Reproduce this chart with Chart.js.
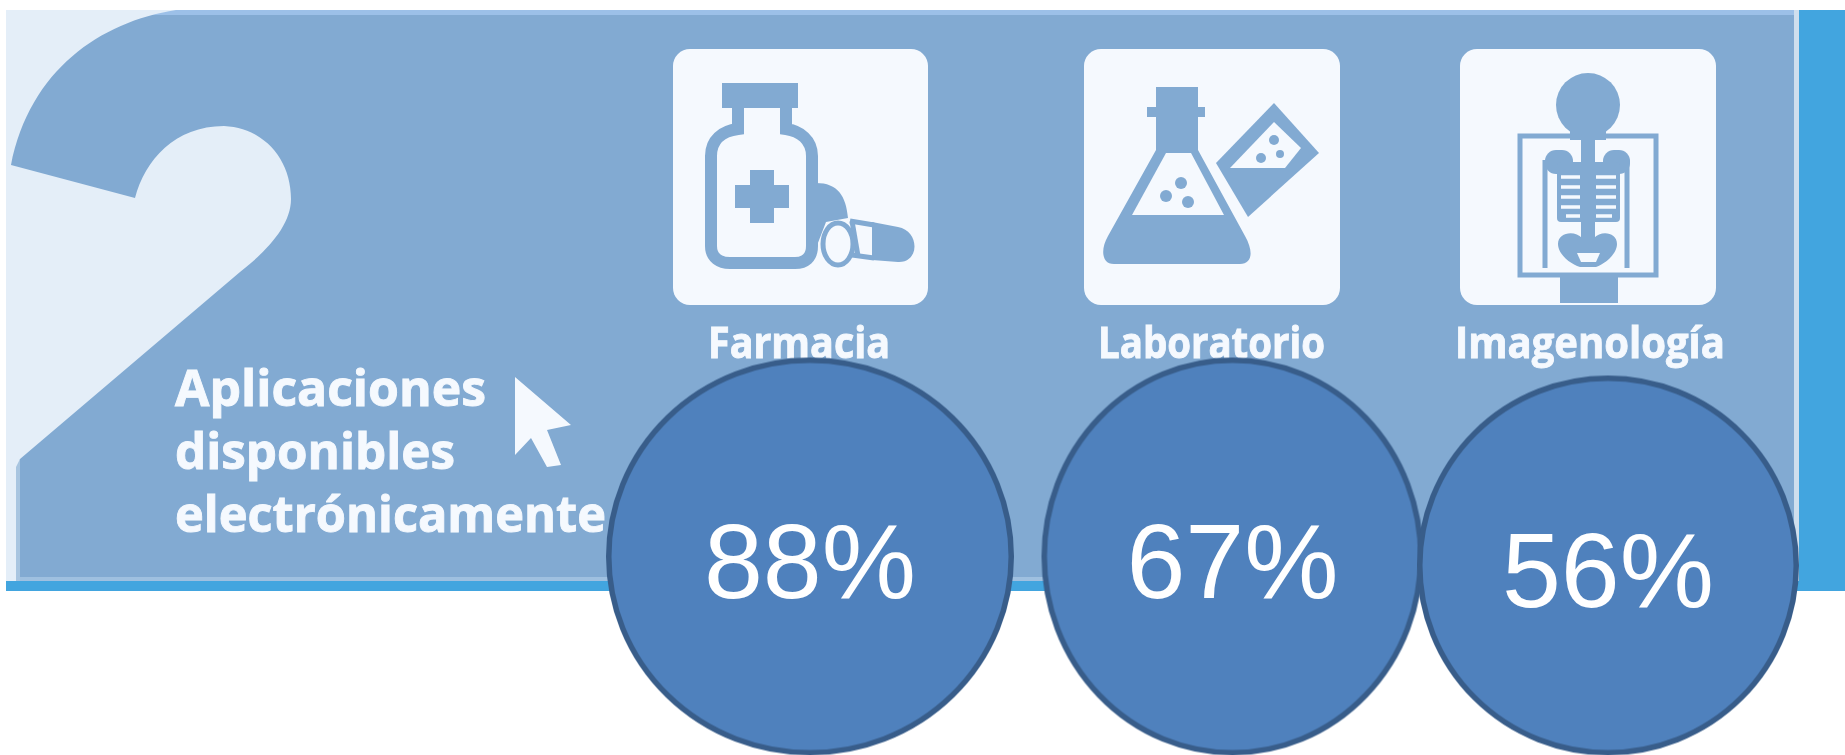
<!DOCTYPE html>
<html lang="es">
<head>
<meta charset="utf-8">
<title>Aplicaciones disponibles electrónicamente</title>
<script src="https://cdn.jsdelivr.net/npm/chart.js@4"></script>
<style>
  html, body { margin: 0; padding: 0; background: #fff; overflow: hidden; }
  #stage { position: relative; width: 1845px; height: 755px; }
  #stage svg, #stage canvas { position: absolute; left: 0; top: 0; }
  #art { filter: blur(0.7px); }
  .head { font: 700 50px "Open Sans", sans-serif; fill: #f5f9fe; stroke: #f5f9fe; stroke-width: 0.9px; }
  .cat { font: 700 43px "Open Sans", sans-serif; fill: #f5f9fe; stroke: #f5f9fe; stroke-width: 0.9px; }
  .ic { fill: #82aad2; }
  .ln { fill: none; stroke: #82aad2; }
  .wh { fill: #f5f9fe; }
  .wl { fill: none; stroke: #f5f9fe; }
</style>
</head>
<body>
<div id="stage">
  <!-- the slide behind the chart -->
  <svg id="art" width="1845" height="755" viewBox="0 0 1845 755">
    <rect x="6" y="10" width="1793" height="581" fill="#82aad2"/>
    <rect x="6" y="10" width="1788" height="5" fill="#9cc0e8"/>
    <rect x="20" y="577" width="1774" height="4" fill="#9fc0e0"/>
    <rect x="16" y="460" width="4" height="121" fill="#a8c5e0"/>
    <rect x="1794" y="10" width="5" height="571" fill="#cfdfee"/>
    <rect x="1799" y="10" width="46" height="581" fill="#42a5df"/>
    <rect x="6" y="581" width="1793" height="10" fill="#42a5df"/>

    <!-- big number 2 -->
    <path fill="#e4eef8" d="M6,10 L176,10 C100,22 30,70 11,165 L135,198 C145,160 175,126 224,126
      C265,128 291,160 291,199 C291,225 268,250 240,272 L20,459 L16,467 L16,581 L6,581 Z"/>

    <text class="head" x="175" y="406" textLength="311" lengthAdjust="spacingAndGlyphs">Aplicaciones</text>
    <text class="head" x="175" y="469" textLength="280" lengthAdjust="spacingAndGlyphs">disponibles</text>
    <text class="head" x="175" y="532" textLength="431" lengthAdjust="spacingAndGlyphs">electrónicamente</text>

    <!-- mouse cursor -->
    <path class="wh" d="M515,377 L571,425 L547,430 L561,465 L547,467 L531,438 L515,455 Z"/>

    <!-- tiles -->
    <rect class="wh" x="673" y="49" width="255" height="256" rx="17"/>
    <rect class="wh" x="1084" y="49" width="256" height="256" rx="17"/>
    <rect class="wh" x="1460" y="49" width="256" height="256" rx="17"/>

    <!-- farmacia icon -->
    <rect class="ic" x="722" y="83" width="76" height="25"/>
    <path class="ic" d="M816,183 C838,183 846,196 848,218 L826,222 L816,248 Z"/>
    <path class="ln" stroke-width="5" d="M850,221 L874,225 M852,255 L874,258"/>
    <path class="ic" d="M872,222 L898,227 C920,231 920,263 898,262 L872,260 Z"/>
    <path class="ln" stroke-width="5" d="M852,221 L858,256"/>
    <ellipse class="wh" cx="838" cy="244" rx="15" ry="21" stroke="#82aad2" stroke-width="5"/>
    <path class="ln" stroke-width="12" d="M738,108 L738,129 C722,131 711,140 711,156 L711,246 C711,258 720,263 730,263 L795,263 C805,263 812,258 812,246 L812,156 C812,140 800,131 786,129 L786,108"/>
    <rect class="ic" x="750" y="170" width="24" height="53"/>
    <rect class="ic" x="735" y="185" width="54" height="23"/>

    <!-- laboratorio icon -->
    <rect class="ic" x="1156" y="87" width="42" height="66"/>
    <rect class="ic" x="1147" y="107" width="58" height="10"/>
    <path class="ic" d="M1156,150 L1198,150 L1245,236 C1254,252 1252,264 1240,264 L1114,264 C1102,264 1100,250 1108,236 Z"/>
    <path class="wh" d="M1166,153 L1191,153 L1224,215 L1132,215 Z"/>
    <circle class="ic" cx="1181" cy="183" r="6"/>
    <circle class="ic" cx="1166" cy="196" r="6"/>
    <circle class="ic" cx="1188" cy="202" r="6"/>
    <path class="ic" d="M1274,103 L1319,153 L1248,217 L1216,163 Z"/>
    <path class="wh" d="M1274,122 L1301,148 L1285,168 L1230,168 Z"/>
    <circle class="ic" cx="1274" cy="140" r="5"/>
    <circle class="ic" cx="1261" cy="158" r="5"/>
    <circle class="ic" cx="1280" cy="154" r="4"/>

    <!-- imagenologia icon -->
    <circle class="ic" cx="1588" cy="105" r="32"/>
    <rect class="ic" x="1570" y="120" width="36" height="20"/>
    <rect class="ln" stroke-width="5" x="1520" y="136" width="136" height="139"/>
    <rect class="ic" x="1560" y="275" width="58" height="28"/>
    <path class="ln" stroke-width="5" d="M1545,160 L1545,268 M1627,160 L1627,268"/>
    <rect class="ic" x="1581" y="140" width="14" height="105"/>
    <rect class="ic" x="1545" y="150" width="28" height="24" rx="11"/>
    <rect class="ic" x="1603" y="150" width="27" height="24" rx="11"/>
    <rect class="ic" x="1557" y="162" width="63" height="60" rx="4"/>
    <path class="wl" stroke-width="3.5" d="M1561,177 L1580,177 M1561,187 L1580,187 M1561,197 L1580,197 M1561,207 L1580,207 M1566,216 L1580,216
      M1596,177 L1616,177 M1596,187 L1616,187 M1596,197 L1616,197 M1596,207 L1616,207 M1596,216 L1612,216"/>
    <path class="ic" d="M1558,244 C1558,232 1575,230 1582,238 L1594,238 C1601,230 1617,232 1617,244 C1617,254 1605,264 1596,267 L1580,267 C1570,264 1558,254 1558,244 Z"/>
    <path class="wh" d="M1577,253 L1600,253 L1596,262 L1581,262 Z"/>

    <text class="cat" x="708" y="358" textLength="182" lengthAdjust="spacingAndGlyphs"></text>
    <text class="cat" x="1098" y="358" textLength="227" lengthAdjust="spacingAndGlyphs"></text>
    <text class="cat" x="1455" y="358" textLength="270" lengthAdjust="spacingAndGlyphs"></text>
  </svg>
  <canvas id="mychart" width="1845" height="755"></canvas>
</div>

<script>
var categories = ['Farmacia', 'Laboratorio', 'Imagenología'];
var values = [88, 67, 56];

// the bubbles are not evenly spaced on the slide, so each category gets its own share of the axis
var bandShares = [406, 439, 312];
// shapes of the ovals, dy pushes the smaller last one down onto the same bottom edge
var ovals = [
  { rx: 204, ry: 199, dy: 0 },
  { rx: 191, ry: 199, dy: 0 },
  { rx: 191, ry: 190, dy: 9 }
];

document.querySelectorAll('.cat').forEach(function(el, i) {
  el.textContent = categories[i];
});

class BandScale extends Chart.CategoryScale {
  getPixelForValue(value) {
    if (typeof value !== 'number') {
      value = this.parse(value);
    }
    var total = bandShares.reduce(function(a, b) { return a + b; }, 0);
    var before = 0;
    for (var i = 0; i < value; i++) {
      before += bandShares[i];
    }
    return this.left + (this.right - this.left) * (before + bandShares[value] / 2) / total;
  }
}
BandScale.id = 'bands';
BandScale.defaults = Chart.CategoryScale.defaults;
Chart.register(BandScale);

function ovalImage(oval) {
  var line = 5.5;
  var cv = document.createElement('canvas');
  cv.width = oval.rx * 2 + 4;
  cv.height = (oval.ry + oval.dy) * 2 + 4;
  var c = cv.getContext('2d');
  c.beginPath();
  c.ellipse(cv.width / 2, cv.height / 2 + oval.dy, oval.rx - line / 2, oval.ry - line / 2, 0, 0, Math.PI * 2);
  c.fillStyle = '#4f81bd';
  c.fill();
  c.lineWidth = line;
  c.strokeStyle = '#385d8a';
  c.stroke();
  return cv;
}

var percentLabels = {
  id: 'percentLabels',
  afterDatasetsDraw: function(chart) {
    var ctx = chart.ctx;
    ctx.save();
    ctx.fillStyle = '#ffffff';
    ctx.font = '106px "Liberation Sans", Arial, sans-serif';
    ctx.textAlign = 'center';
    ctx.textBaseline = 'alphabetic';
    chart.getDatasetMeta(0).data.forEach(function(pt, i) {
      ctx.fillText(values[i] + '%', pt.x, pt.y + ovals[i].dy + 41);
    });
    ctx.restore();
  }
};

var ctx = document.getElementById('mychart').getContext('2d');
var myChart = new Chart(ctx, {
  type: 'line',
  data: {
    labels: categories,
    datasets: [{
      label: 'Aplicaciones disponibles electrónicamente',
      data: categories.map(function(c, i) { return { x: c, y: 0, pct: values[i] }; }),
      showLine: false,
      clip: false,
      pointRadius: 1,
      pointStyle: ovals.map(ovalImage)
    }]
  },
  options: {
    responsive: false,
    animation: false,
    layout: { padding: { left: 607, right: 81, top: 363, bottom: 0 } },
    plugins: { legend: { display: false }, tooltip: { enabled: false } },
    scales: {
      x: { type: 'bands', display: false },
      y: { display: false, min: -1, max: 1 }
    }
  },
  plugins: [percentLabels]
});
</script>
</body>
</html>
